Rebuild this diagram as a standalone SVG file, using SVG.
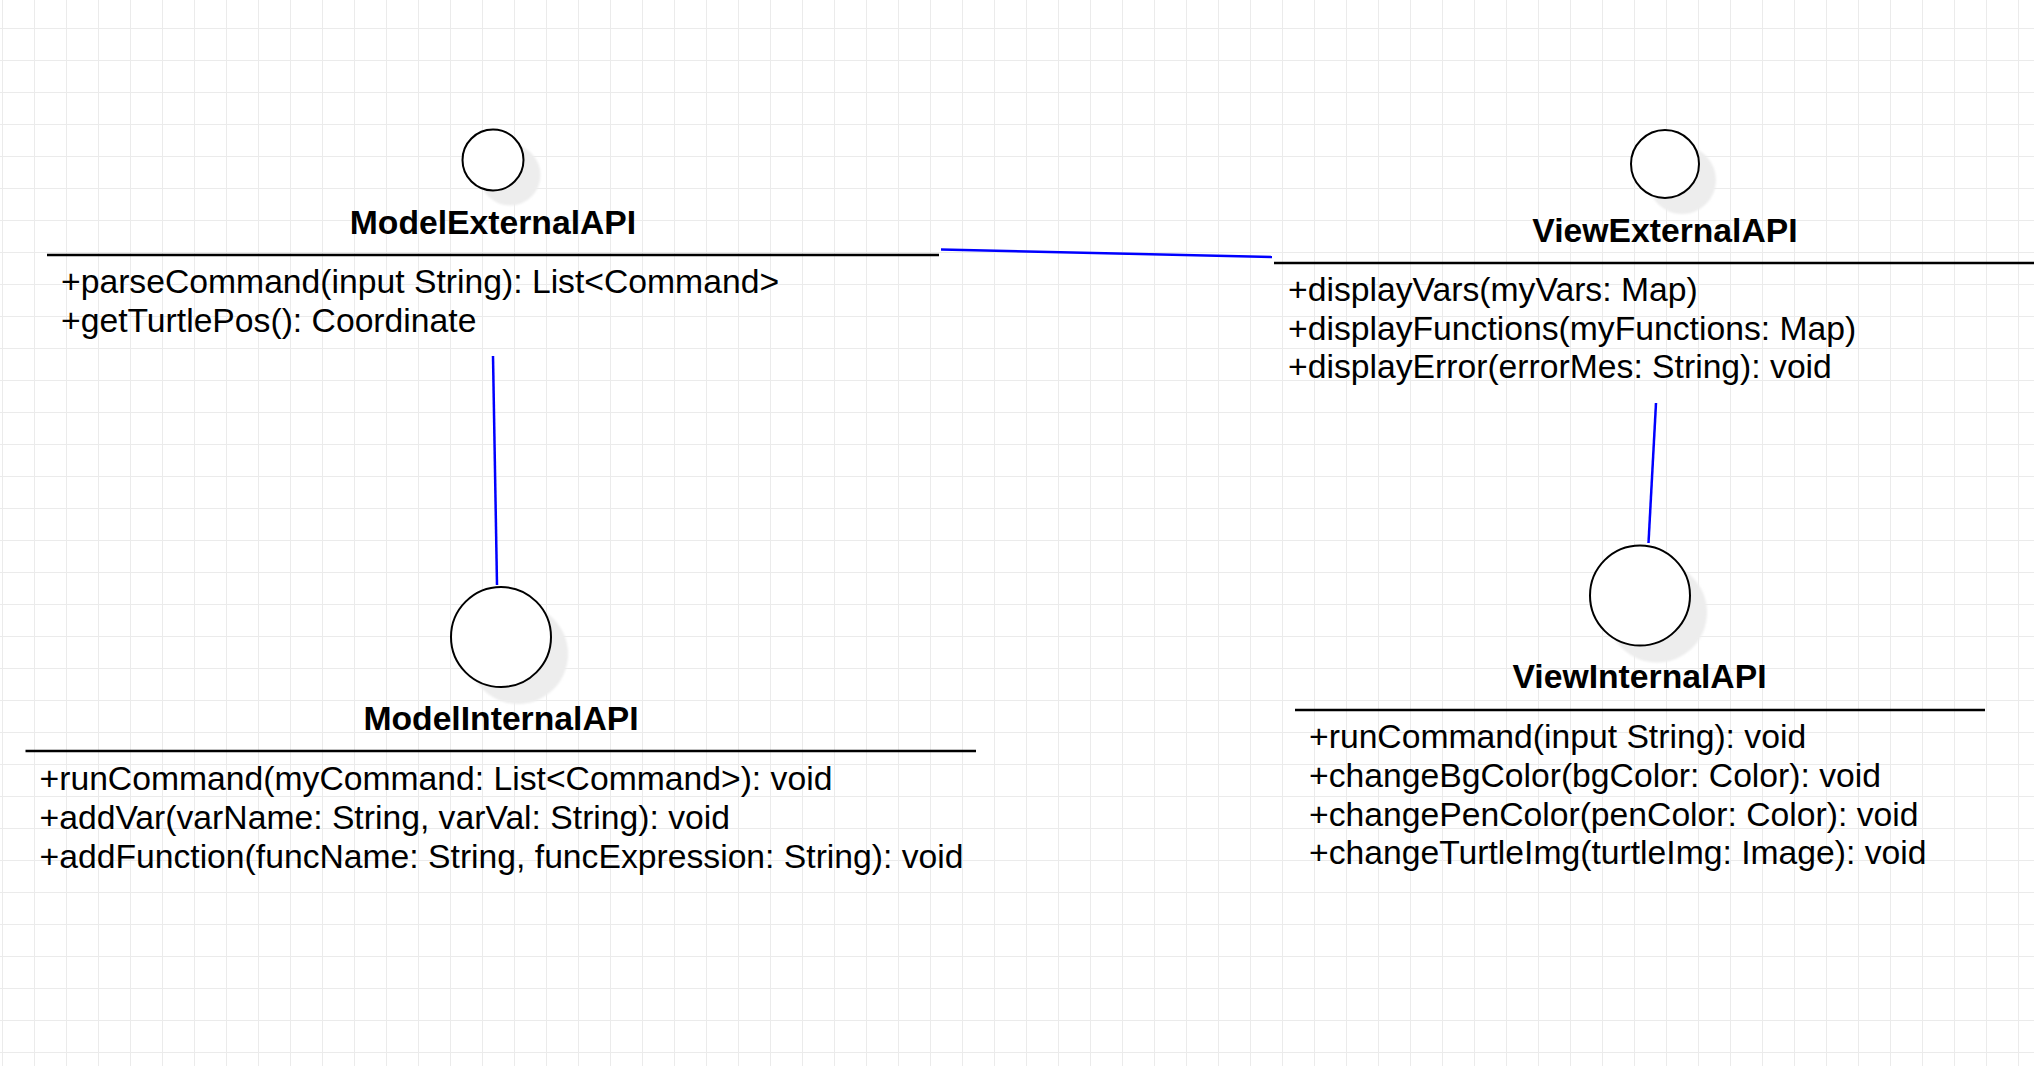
<svg xmlns="http://www.w3.org/2000/svg" width="2034" height="1066" viewBox="0 0 2034 1066">
  <defs>
    <pattern id="grid" patternUnits="userSpaceOnUse" x="2" y="28" width="32" height="32">
      <path d="M0.5 0 V32 M0 0.5 H32" fill="none" stroke="#ebebeb" stroke-width="1"/>
    </pattern>
    <filter id="soft" x="-20%" y="-20%" width="140%" height="140%">
      <feGaussianBlur stdDeviation="1"/>
    </filter>
  </defs>
  <style>
    .shadow { fill: #ededed; filter: url(#soft); }
    .iface { fill: #ffffff; stroke: #000000; stroke-width: 2; }
    .sep { stroke: #000000; stroke-width: 2.6; }
    .title { font-family: "Liberation Sans", Arial, sans-serif; font-weight: bold; font-size: 33.7px; text-anchor: middle; fill: #000000; }
    .member { font-family: "Liberation Sans", Arial, sans-serif; font-size: 33.7px; fill: #000000; }
    .conn { stroke: #0000ff; stroke-width: 2.5; fill: none; }
  </style>

  <rect x="0" y="0" width="2034" height="1066" fill="#ffffff"/>
  <rect x="0" y="0" width="2034" height="1066" fill="url(#grid)"/>

  <g id="connectors">
    <line class="conn" x1="941" y1="249.5" x2="1272" y2="257"/>
    <line class="conn" x1="493" y1="356" x2="497" y2="585"/>
    <line class="conn" x1="1656" y1="403" x2="1648.5" y2="543"/>
  </g>

  <g id="ModelExternalAPI">
    <circle class="shadow" cx="510" cy="175" r="30.5"/>
    <circle class="iface" cx="493" cy="160" r="30.5"/>
    <text class="title" x="493" y="234">ModelExternalAPI</text>
    <line class="sep" x1="47" y1="255" x2="939" y2="255"/>
    <text class="member" x="61" y="293">+parseCommand(input String): List&lt;Command&gt;</text>
    <text class="member" x="61" y="332">+getTurtlePos(): Coordinate</text>
  </g>

  <g id="ViewExternalAPI">
    <circle class="shadow" cx="1682" cy="180" r="34"/>
    <circle class="iface" cx="1665" cy="164" r="34"/>
    <text class="title" x="1665" y="242">ViewExternalAPI</text>
    <line class="sep" x1="1274" y1="263" x2="2034" y2="263"/>
    <text class="member" x="1288" y="301">+displayVars(myVars: Map)</text>
    <text class="member" x="1288" y="340">+displayFunctions(myFunctions: Map)</text>
    <text class="member" x="1288" y="378">+displayError(errorMes: String): void</text>
  </g>

  <g id="ModelInternalAPI">
    <circle class="shadow" cx="518" cy="654" r="50"/>
    <circle class="iface" cx="501" cy="637" r="50"/>
    <text class="title" x="501" y="730">ModelInternalAPI</text>
    <line class="sep" x1="25.5" y1="751" x2="976" y2="751"/>
    <text class="member" x="39.5" y="790">+runCommand(myCommand: List&lt;Command&gt;): void</text>
    <text class="member" x="39.5" y="829">+addVar(varName: String, varVal: String): void</text>
    <text class="member" x="39.5" y="868">+addFunction(funcName: String, funcExpression: String): void</text>
  </g>

  <g id="ViewInternalAPI">
    <circle class="shadow" cx="1657" cy="612.5" r="50"/>
    <circle class="iface" cx="1640" cy="595.5" r="50"/>
    <text class="title" x="1639.5" y="688">ViewInternalAPI</text>
    <line class="sep" x1="1295" y1="710" x2="1985" y2="710"/>
    <text class="member" x="1309" y="748">+runCommand(input String): void</text>
    <text class="member" x="1309" y="787">+changeBgColor(bgColor: Color): void</text>
    <text class="member" x="1309" y="825.5">+changePenColor(penColor: Color): void</text>
    <text class="member" x="1309" y="864">+changeTurtleImg(turtleImg: Image): void</text>
  </g>
</svg>
